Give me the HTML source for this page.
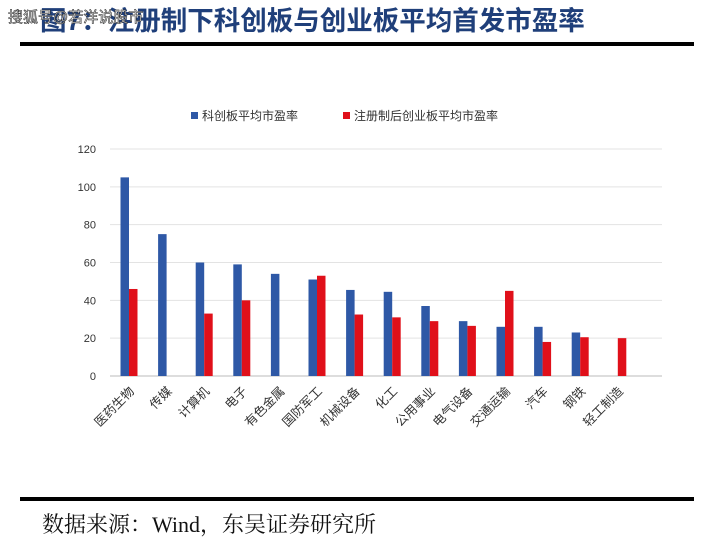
<!DOCTYPE html>
<html><head><meta charset="utf-8"><style>
html,body{margin:0;padding:0;background:#fff;width:712px;height:542px;overflow:hidden}
svg{display:block}
</style></head><body>
<svg id="chart" width="712" height="542" xmlns="http://www.w3.org/2000/svg">
<text x="40" y="30" font-family="Liberation Sans, Noto Sans CJK SC, sans-serif" font-size="26.5" font-weight="bold" fill="#1f3f7a">图7：注册制下科创板与创业板平均首发市盈率</text>
<text x="8" y="22" font-family="Liberation Sans, Noto Sans CJK SC, sans-serif" font-size="15" fill="#fff" stroke="#333" stroke-width="0.6">搜狐号@若洋说股市</text>
<rect x="20" y="42" width="674" height="4" fill="#000"/>
<g>
<rect x="191" y="112" width="7" height="7" fill="#2e58a6"/>
<text x="202" y="120" font-family="Liberation Sans, Noto Sans CJK SC, sans-serif" font-size="12" fill="#333">科创板平均市盈率</text>
<rect x="343" y="112" width="7" height="7" fill="#e0101a"/>
<text x="354" y="120" font-family="Liberation Sans, Noto Sans CJK SC, sans-serif" font-size="12" fill="#333">注册制后创业板平均市盈率</text>
</g>
<g id="grid"></g><g id="bars"></g><g id="labels"></g>
<rect x="20" y="497" width="674" height="4" fill="#000"/>
<text x="42" y="532" font-family="Liberation Serif, Noto Serif CJK SC, serif" font-size="22" fill="#111">数据来源：Wind，东吴证券研究所</text>
</svg>
<script>
const categories=["医药生物","传媒","计算机","电子","有色金属","国防军工","机械设备","化工","公用事业","电气设备","交通运输","汽车","钢铁","轻工制造"];
const starValues=[105,75,60,59,54,51,45.5,44.5,37,29,26,26,23,0];
const chinextValues=[46,0,33,40,0,53,32.5,31,29,26.5,45,18,20.5,20];
const yTicks=[0,20,40,60,80,100,120];
const NS="http://www.w3.org/2000/svg";
const y=v=>376-v*(227/120);
const x=i=>129+i*37.6;
function mk(t,a,p){const e=document.createElementNS(NS,t);for(const k in a)e.setAttribute(k,a[k]);p.appendChild(e);return e;}
const grid=document.getElementById('grid'),bars=document.getElementById('bars'),labels=document.getElementById('labels');
yTicks.forEach(v=>{
 const l=mk('line',{x1:110,x2:662,y1:y(v),y2:y(v),stroke:v===0?'#bbb':'#e3e3e3','stroke-width':1},grid);
 
 
 const t=mk('text',{x:96,y:y(v)+4,'text-anchor':'end','font-family':'Liberation Sans, sans-serif','font-size':11,fill:'#333'},grid);
 t.textContent=v;
 
 
});
categories.forEach((c,i)=>{
 const bw=8.5;
 if(starValues[i]>0){const r=mk('rect',{x:x(i)-bw,y:y(starValues[i]),width:bw,height:376-y(starValues[i]),fill:'#2e58a6'},bars);
 
 }
 if(chinextValues[i]>0){const r=mk('rect',{x:x(i),y:y(chinextValues[i]),width:bw,height:376-y(chinextValues[i]),fill:'#e0101a'},bars);
 
 }
 const t=mk('text',{x:0,y:0,'text-anchor':'end','font-family':'Liberation Sans, Noto Sans CJK SC, sans-serif','font-size':12.5,fill:'#333',transform:`translate(${x(i)+6},${392}) rotate(-45)`},labels);
 t.textContent=c;
 
 
});
</script>
</body></html>
